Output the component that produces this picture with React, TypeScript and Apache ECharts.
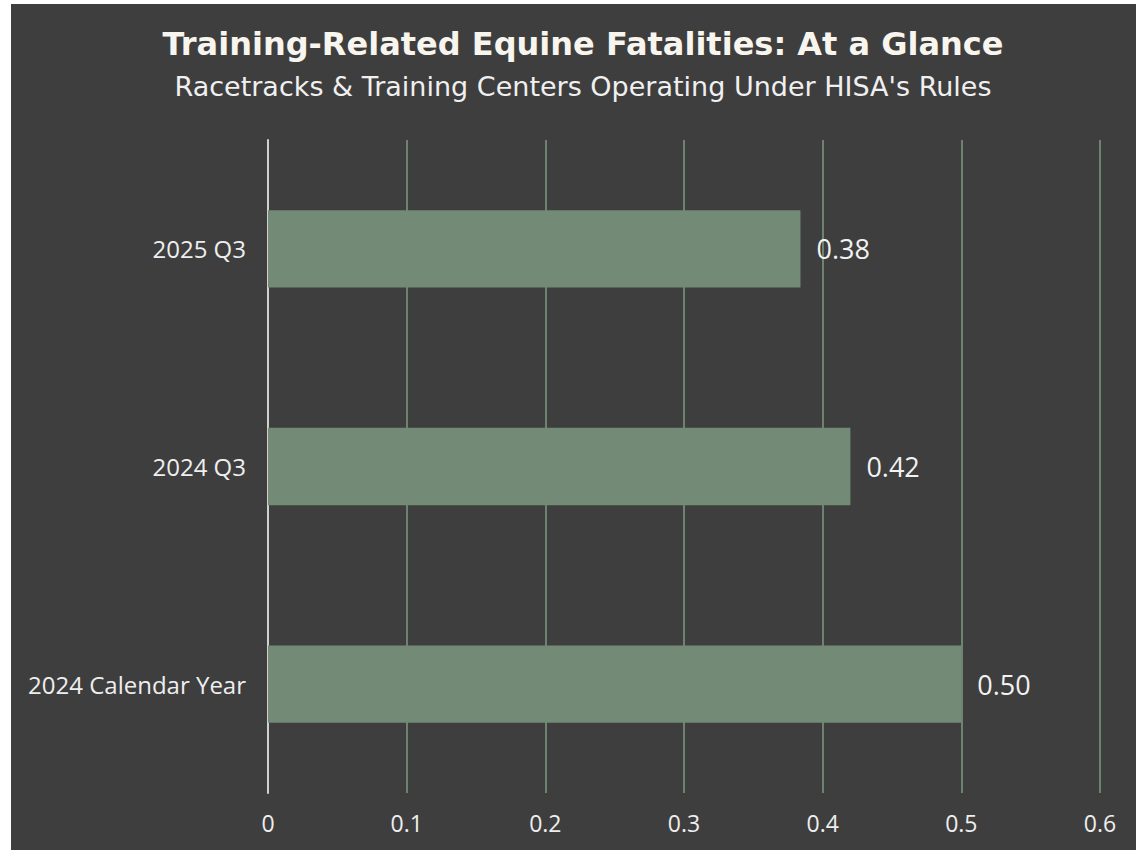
import React, { useEffect, useRef } from "react";
import * as echarts from "echarts";

const categories = ["2024 Calendar Year", "2024 Q3", "2025 Q3"];
const values = [0.5, 0.42, 0.384];
const xTicks = [0, 0.1, 0.2, 0.3, 0.4, 0.5, 0.6];
const titleText = "Training-Related Equine Fatalities: At a Glance";
const subtitleText = "Racetracks & Training Centers Operating Under HISA's Rules";

const FONT = "'Open Sans', 'Noto Sans', sans-serif";
const TFONT = "'DejaVu Sans', 'Open Sans', sans-serif";

export default function App() {
  const ref = useRef<HTMLDivElement>(null);
  useEffect(() => {
    if (!ref.current) return;
    const chart = echarts.init(ref.current, undefined, { renderer: "svg" });
    chart.setOption({
      animation: false,
      backgroundColor: "#3e3e3e",
      title: {
        text: titleText,
        subtext: subtitleText,
        left: 567,
        textAlign: "center",
        top: 19,
        itemGap: 13,
        textStyle: { color: "#f7f5ee", fontSize: 32, fontWeight: "bold", fontFamily: TFONT },
        subtextStyle: { color: "#f0f0f0", fontSize: 27, fontFamily: TFONT },
      },
      grid: { left: 257, right: 36, top: 136, bottom: 57, containLabel: false },
      xAxis: {
        type: "value",
        min: xTicks[0],
        max: xTicks[xTicks.length - 1],
        interval: 0.1,
        axisLine: { show: false },
        axisTick: { show: false },
        axisLabel: {
          color: "#eeeeee",
          fontSize: 23,
          fontFamily: FONT,
          margin: 18,
          formatter: (v: number) => (v === 0 ? "0" : String(Math.round(v * 10) / 10)),
        },
        splitLine: { show: true, lineStyle: { color: "#6e8270", width: 2 } },
      },
      yAxis: {
        type: "category",
        data: categories,
        axisLine: { show: true, lineStyle: { color: "#d0d0d0", width: 2 } },
        axisTick: { show: false },
        axisLabel: { color: "#eeeeee", fontSize: 24, fontFamily: FONT, margin: 22 },
      },
      series: [
        {
          type: "bar",
          data: values,
          barWidth: "35.5%",
          itemStyle: { color: "#728a76" },
          z: 3,
          label: {
            show: true,
            position: "right",
            distance: 16,
            color: "#f2f2f2",
            fontSize: 27,
            fontFamily: FONT,
            formatter: (p: any) => Number(p.value).toFixed(2),
          },
        },
      ],
    });
    return () => chart.dispose();
  }, []);
  return (
    <div style={{ position: "fixed", left: 0, top: 0, width: 1136, height: 850, background: "#ffffff" }}>
      <div ref={ref} style={{ position: "absolute", left: 11, top: 4, width: 1125, height: 846 }} />
    </div>
  );
}
